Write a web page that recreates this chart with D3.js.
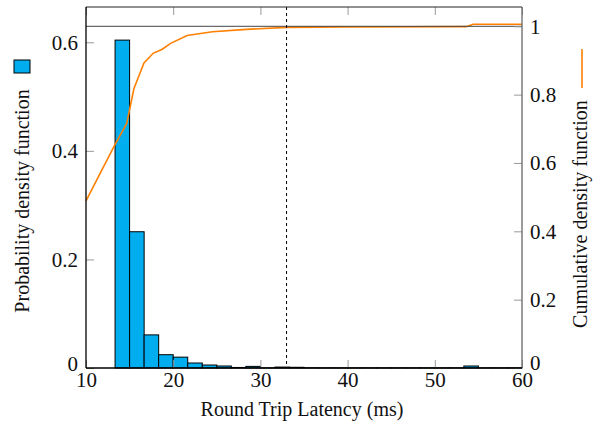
<!DOCTYPE html>
<html>
<head>
<meta charset="utf-8">
<script src="https://cdn.jsdelivr.net/npm/d3@7"></script>
<style>
	body { margin: 0; background: #ffffff; }
	text { font-family: 'Liberation Serif', 'DejaVu Serif', serif; fill: #111111; }
</style>
</head>
<body>
<div class="view-container"></div>
<script>
'use strict';

var CYAN = '#00aeef';
var ORANGE = '#ff8000';
var TICK_GRAY = '#999999';
var SERIF = "'Liberation Serif', 'DejaVu Serif', serif";

// histogram bins (ms), width 5/3 ms from 10 to 60
var binStarts = [10, 11.667, 13.333, 15, 16.667, 18.333, 20, 21.667, 23.333, 25,
	26.667, 28.333, 30, 31.667, 33.333, 35, 36.667, 38.333, 40, 41.667,
	43.333, 45, 46.667, 48.333, 50, 51.667, 53.333, 55, 56.667, 58.333];
var pdfValues = [0, 0, 0.604, 0.251, 0.061, 0.0245, 0.020, 0.0092, 0.0055, 0.0037,
	0.001, 0.003, 0.0003, 0.0017, 0.0013, 0.0004, 0.0003, 0.0003, 0.0003, 0.0003,
	0.0003, 0.0003, 0.0003, 0.0003, 0.0003, 0.0003, 0.0037, 0.0003, 0.0003, 0.0003];
var binWidth = 5 / 3;

// cumulative curve
var cdfX = [10, 13.2, 14.67, 15.5, 16.65, 17.7, 18.75, 19.7, 21.6, 24.5, 28.4, 33, 40, 53.6, 54.4, 60];
var cdfY = [0.489, 0.648, 0.716, 0.818, 0.893, 0.921, 0.933, 0.950, 0.973, 0.984, 0.991, 0.997, 0.998, 0.999, 1.006, 1.006];

var xTicks = [10, 20, 30, 40, 50, 60];
var leftTicks = [0, 0.2, 0.4, 0.6];
var rightTicks = [0, 0.2, 0.4, 0.6, 0.8, 1];
var markerX = 33;

var width = 602, height = 430;
var plot = {left: 86, right: 522, top: 7, bottom: 368};

var svg = d3.select('.view-container').append('svg')
	.attr('width', width)
	.attr('height', height);

var x = d3.scaleLinear().domain([10, 60]).range([plot.left, plot.right]);
var yLeft = d3.scaleLinear().domain([0, 0.665]).range([plot.bottom, plot.top]);
var yRight = d3.scaleLinear().domain([0, 1.0565]).range([plot.bottom, plot.top]);

// bars
svg.append('g').selectAll('rect')
	.data(pdfValues.map(function(v, i) { return {x0: binStarts[i], v: v}; }))
	.enter().append('rect')
	.filter(function(d) { return d.v > 0; })
	.attr('x', function(d) { return x(d.x0); })
	.attr('width', function(d) { return x(d.x0 + binWidth) - x(d.x0); })
	.attr('y', function(d) { return yLeft(d.v); })
	.attr('height', function(d) { return yLeft(0) - yLeft(d.v); })
	.style('fill', CYAN)
	.style('stroke', '#000')
	.style('stroke-width', 1);

// cdf line
var line = d3.line()
	.x(function(d) { return x(d[0]); })
	.y(function(d) { return yRight(d[1]); });

svg.append('path')
	.datum(cdfX.map(function(v, i) { return [v, cdfY[i]]; }))
	.attr('d', line)
	.style('fill', 'none')
	.style('stroke', ORANGE)
	.style('stroke-width', 1.6);

// reference line at cdf = 1
svg.append('line')
	.attr('x1', plot.left).attr('x2', plot.right)
	.attr('y1', yRight(1)).attr('y2', yRight(1))
	.style('stroke', '#444')
	.style('stroke-width', 1);

// dashed marker
svg.append('line')
	.attr('x1', x(markerX)).attr('x2', x(markerX))
	.attr('y1', plot.top).attr('y2', plot.bottom)
	.style('stroke', '#000')
	.style('stroke-width', 1)
	.style('stroke-dasharray', '3,3');

// axes
var bottomAxis = svg.append('g')
	.attr('transform', 'translate(0,' + plot.bottom + ')')
	.call(d3.axisBottom(x).tickValues(xTicks).tickSize(-8).tickPadding(4).tickFormat(d3.format('d')));
var topAxis = svg.append('g')
	.attr('transform', 'translate(0,' + plot.top + ')')
	.call(d3.axisTop(x).tickValues(xTicks).tickSize(-8).tickFormat(''));
var leftAxis = svg.append('g')
	.attr('transform', 'translate(' + plot.left + ',0)')
	.call(d3.axisLeft(yLeft).tickValues(leftTicks).tickSize(-8).tickPadding(8).tickFormat(function(d) { return d === 0 ? '0' : d3.format('.1f')(d); }));
var rightAxis = svg.append('g')
	.attr('transform', 'translate(' + plot.right + ',0)')
	.call(d3.axisRight(yRight).tickValues(rightTicks).tickSize(-8).tickPadding(8).tickFormat(function(d) { return (d === 0 || d === 1) ? String(d) : d3.format('.1f')(d); }));

[bottomAxis, topAxis, leftAxis, rightAxis].forEach(function(g) {
	g.attr('font-family', null).attr('font-size', null);
	g.selectAll('.tick line').style('stroke', TICK_GRAY);
	g.selectAll('text').style('font-family', SERIF).style('font-size', '21px').style('fill', '#111');
	g.select('.domain').remove();
});

// both zeros sit a little higher, clear of the "10" and "60"
rightAxis.selectAll('.tick text')
	.filter(function(d) { return d === 0; })
	.attr('dy', '0.05em');
leftAxis.selectAll('.tick text')
	.filter(function(d) { return d === 0; })
	.attr('dy', '0.1em');

// frame
svg.append('line').attr('x1', plot.left).attr('x2', plot.right).attr('y1', plot.top).attr('y2', plot.top).style('stroke', '#222');
svg.append('line').attr('x1', plot.right).attr('x2', plot.right).attr('y1', plot.top).attr('y2', plot.bottom).style('stroke', '#666').style('stroke-width', 1.3);
svg.append('line').attr('x1', plot.left).attr('x2', plot.left).attr('y1', plot.top).attr('y2', plot.bottom).style('stroke', '#000').style('stroke-width', 1.3);
svg.append('line').attr('x1', plot.left).attr('x2', plot.right).attr('y1', plot.bottom).attr('y2', plot.bottom).style('stroke', '#000').style('stroke-width', 1.3);

// titles
svg.append('text')
	.attr('x', 302).attr('y', 416)
	.attr('text-anchor', 'middle')
	.style('font-family', SERIF)
	.style('font-size', '20px')
	.text('Round Trip Latency (ms)');

svg.append('text')
	.attr('transform', 'translate(29,201) rotate(-90)')
	.attr('text-anchor', 'middle')
	.style('font-family', SERIF)
	.style('font-size', '20px')
	.text('Probability density function');

svg.append('text')
	.attr('transform', 'translate(587,214) rotate(-90)')
	.attr('text-anchor', 'middle')
	.style('font-family', SERIF)
	.style('font-size', '20px')
	.text('Cumulative density function');

// legend markers
svg.append('rect')
	.attr('x', 14).attr('y', 60).attr('width', 16).attr('height', 13)
	.style('fill', CYAN).style('stroke', '#000').style('stroke-width', 1);
svg.append('line')
	.attr('x1', 582).attr('x2', 582).attr('y1', 49).attr('y2', 88)
	.style('stroke', ORANGE).style('stroke-width', 1.6);
</script>
</body>
</html>
